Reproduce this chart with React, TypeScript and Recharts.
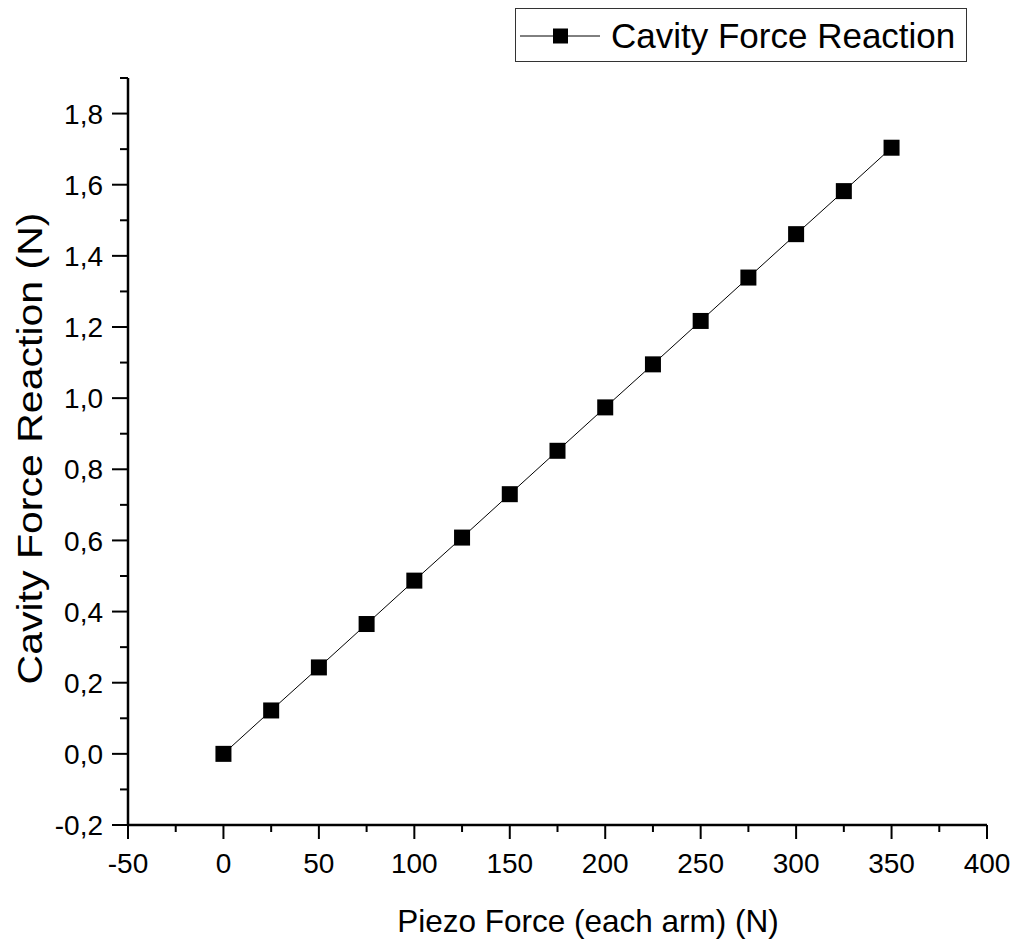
import { Legend, Line, LineChart, XAxis, YAxis } from "recharts";

const FONT = "'Liberation Sans', Arial, sans-serif";

const seriesName = "Cavity Force Reaction";
const piezoForce = [0, 25, 50, 75, 100, 125, 150, 175, 200, 225, 250, 275, 300, 325, 350];
const cavityReaction = [
  0, 0.122, 0.243, 0.365, 0.487, 0.608, 0.73, 0.852, 0.974, 1.095, 1.217, 1.339, 1.461, 1.582,
  1.704,
];
const xTicks = [-50, -25, 0, 25, 50, 75, 100, 125, 150, 175, 200, 225, 250, 275, 300, 325, 350, 375, 400];
const yTicks = [
  -0.2, -0.1, 0, 0.1, 0.2, 0.3, 0.4, 0.5, 0.6, 0.7, 0.8, 0.9, 1.0, 1.1, 1.2, 1.3, 1.4, 1.5, 1.6,
  1.7, 1.8, 1.9,
];

const data = piezoForce.map((f, i) => ({ force: f, reaction: cavityReaction[i] }));

const XTick = (props: any) => {
  const { x, y, payload } = props;
  const v = payload.value;
  const major = v % 50 === 0;
  return (
    <g>
      <line x1={x} x2={x} y1={y} y2={y + (major ? 14 : 7)} stroke="#000" strokeWidth={2} />
      {major && (
        <text x={x} y={y + 48} textAnchor="middle" fontSize={28} fontFamily={FONT} fill="#000">
          {v}
        </text>
      )}
    </g>
  );
};

const YTick = (props: any) => {
  const { x, y, payload } = props;
  const v = payload.value;
  const major = Math.round(v * 10) % 2 === 0;
  return (
    <g>
      <line x1={x} x2={x - (major ? 16 : 8)} y1={y} y2={y} stroke="#000" strokeWidth={2} />
      {major && (
        <text x={x - 25} y={y} dy="0.36em" textAnchor="end" fontSize={28} fontFamily={FONT} fill="#000">
          {v.toFixed(1).replace(".", ",")}
        </text>
      )}
    </g>
  );
};

const SquareDot = (props: any) => {
  const { cx, cy, index } = props;
  return <rect key={"dot-" + index} x={cx - 8} y={cy - 8} width={16} height={16} fill="#000" />;
};

const XTitle = (props: any) => {
  const vb = props.viewBox;
  return (
    <text x={588} y={vb.y + 107} textAnchor="middle" fontSize={31.5} fontFamily={FONT} fill="#000">
      Piezo Force (each arm) (N)
    </text>
  );
};

const YTitle = (props: any) => {
  const vb = props.viewBox;
  const cx = vb.x + 29;
  const cy = vb.y + vb.height / 2 - 3;
  return (
    <text
      x={0}
      y={0}
      dy="0.36em"
      transform={`translate(${cx} ${cy}) rotate(-90) scale(1.14 1)`}
      textAnchor="middle"
      fontSize={36}
      fontFamily={FONT}
      fill="#000"
    >
      Cavity Force Reaction (N)
    </text>
  );
};

const LegendBox = () => (
  <div
    style={{
      boxSizing: "border-box",
      width: 452,
      height: 54,
      border: "1.5px solid #333",
      display: "flex",
      alignItems: "center",
      background: "#fff",
      fontFamily: FONT,
    }}
  >
    <svg width={92} height={51} style={{ flex: "none" }}>
      <line x1={4} x2={84} y1={26} y2={26} stroke="#000" strokeWidth={1} />
      <rect x={37} y={18.5} width={15} height={15} fill="#000" />
    </svg>
    <span style={{ fontSize: 35, color: "#000", lineHeight: 1, marginLeft: 3 }}>{seriesName}</span>
  </div>
);

export default function App() {
  return (
    <div style={{ position: "absolute", top: 0, left: 0, background: "#fff" }}>
      <LineChart width={1012} height={943} data={data} margin={{ top: 78, right: 25, bottom: 0, left: 0 }}>
        <XAxis
          dataKey="force"
          type="number"
          domain={[-50, 400]}
          ticks={xTicks}
          interval={0}
          height={118}
          tickSize={0}
          tickMargin={0}
          tickLine={false}
          tick={XTick}
          axisLine={{ stroke: "#000", strokeWidth: 2.5 }}
          label={XTitle}
        />
        <YAxis
          type="number"
          domain={[-0.2, 1.9]}
          ticks={yTicks}
          interval={0}
          width={128}
          allowDataOverflow
          tickSize={0}
          tickMargin={0}
          tickLine={false}
          tick={YTick}
          axisLine={{ stroke: "#000", strokeWidth: 2.5 }}
          label={YTitle}
        />
        <Legend
          layout="horizontal"
          verticalAlign="middle"
          align="center"
          content={LegendBox}
          wrapperStyle={{ top: 8, left: 515, width: 452, height: 54 }}
        />
        <Line
          type="linear"
          dataKey="reaction"
          name={seriesName}
          stroke="#000"
          strokeWidth={1}
          dot={SquareDot}
          activeDot={false}
          isAnimationActive={false}
        />
      </LineChart>
    </div>
  );
}
